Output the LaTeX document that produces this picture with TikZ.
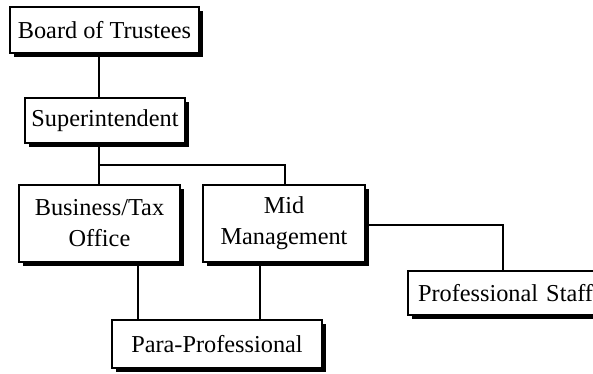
\documentclass[tikz,border=0pt]{standalone}
\usepackage{fontspec}
\setmainfont{Liberation Serif}
\usetikzlibrary{shadows}
\begin{document}
\begin{tikzpicture}[x=1pt,y=-1pt,
  orgbox/.style={draw=black, line width=1.4pt, fill=white, inner sep=0pt,
    font=\fontsize{24.3}{31}\selectfont, align=center,
    drop shadow={shadow xshift=3.5pt, shadow yshift=-3.5pt, fill=black, opacity=1}},
  link/.style={line width=1.4pt}]
\useasboundingbox (0,0) rectangle (593,373);
\fill[white] (0,0) rectangle (593,373);
\node[orgbox, minimum width=189pt, minimum height=46pt] (board) at (104.5,30) {Board of Trustees};
\node[orgbox, minimum width=160pt, minimum height=45pt] (sup) at (105,120.5) {Superintendent};
\node[orgbox, minimum width=161pt, minimum height=77pt] (bus) at (99.5,223.5) {Business/Tax\\Office};
\node[orgbox, minimum width=162pt, minimum height=77pt] (mid) at (284,223.5) {Mid\\Management};
\node[orgbox, minimum width=202pt, minimum height=44pt, text width=182pt, align=left] (prof) at (509,293) {Professional Staff};
\node[orgbox, minimum width=210pt, minimum height=48pt] (para) at (217,344) {Para-Professional};
\coordinate (split) at (99,165);
\draw[link] (board.south -| split) -- (sup.north -| split);
\draw[link] (sup.south -| split) -- (split) -- (bus.north -| split);
\draw[link] (split) -- (split -| 285,0) -- (mid.north -| 285,0);
\draw[link] (bus.south -| 138,0) -- (para.north -| 138,0);
\draw[link] (mid.south -| 260,0) -- (para.north -| 260,0);
\draw[link] (mid.east |- 0,225) -- (503,225) -- (prof.north -| 503,0);
\end{tikzpicture}
\end{document}
